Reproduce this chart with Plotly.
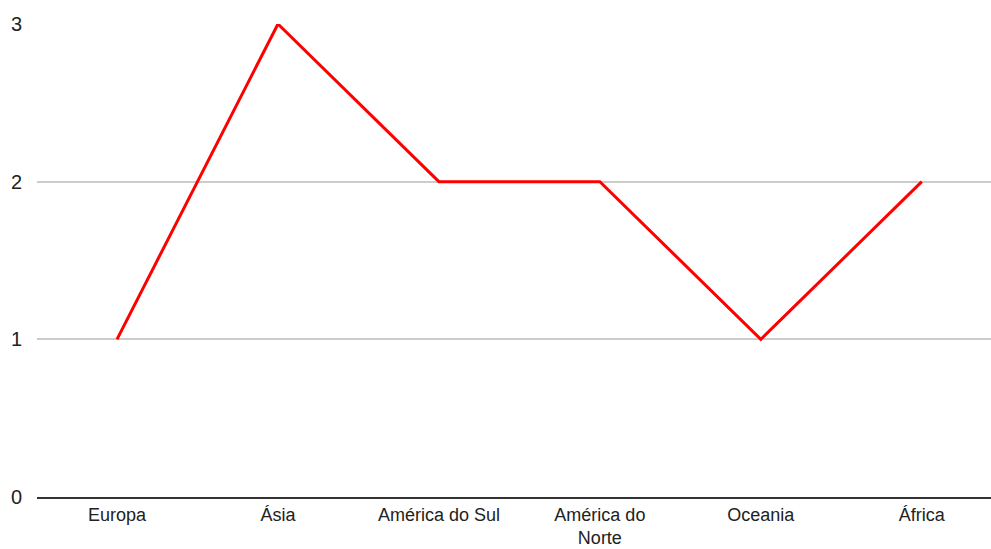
import plotly.graph_objects as go

categories = ["Europa", "Ásia", "América do Sul", "América do<br>Norte", "Oceania", "África"]
values = [1, 3, 2, 2, 1, 2]
y_ticks = [0, 1, 2, 3]

fig = go.Figure()
fig.add_trace(go.Scatter(
    x=categories, y=values, mode="lines",
    line=dict(color="#ff0000", width=3),
    hoverinfo="skip",
))

fig.update_layout(
    width=991, height=549,
    margin=dict(l=37, r=0, t=24, b=52),
    paper_bgcolor="white", plot_bgcolor="white",
    showlegend=False,
    font=dict(family="Liberation Sans, Arial, sans-serif", size=20, color="#222222"),
)
fig.update_xaxes(
    type="category", range=[-0.497, 5.43], automargin=False,
    showgrid=False, showline=True, linecolor="#333333", linewidth=2,
    ticks="", ticklabelstandoff=0,
    tickfont=dict(size=18, color="#222222"),
    fixedrange=True,
)
fig.update_yaxes(
    range=[0, 3], tickvals=y_ticks, ticktext=[str(v) for v in y_ticks],
    automargin=False,
    showgrid=True, gridcolor="#cccccc", gridwidth=1.5,
    zeroline=False, showline=False,
    ticks="", ticklabelstandoff=14,
    tickfont=dict(size=20, color="#222222"),
    fixedrange=True,
)

fig.write_html("out.html")
